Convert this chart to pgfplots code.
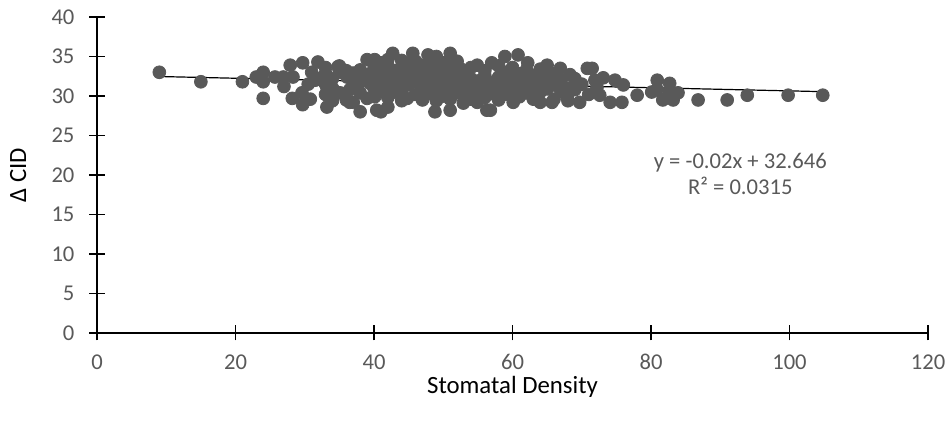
\documentclass[border=0pt]{standalone}
\usepackage{fontspec}
\setmainfont{Carlito}
\usepackage{pgfplots}
\pgfplotsset{compat=1.18}
\definecolor{tickgray}{HTML}{595959}
\definecolor{markgray}{HTML}{595959}
\begin{document}
\begin{tikzpicture}
\begin{axis}[
  name=ax,
  scale only axis,
  width=415.5pt, height=158pt,
  xmin=0, xmax=120, ymin=0, ymax=40,
  xtick={0,20,...,120}, ytick={0,5,...,40},
  axis lines=left,
  axis line style={-, line width=0.7pt, black},
  tick style={line width=0.7pt, black},
  tick align=center,
  major tick length=7.5pt,
  /pgf/number format/assume math mode=true,
  tick label style={text=tickgray, font=\fontsize{11.3}{13}\selectfont},
  xticklabel style={anchor=north, yshift=-3.4pt},
  yticklabel style={anchor=east, xshift=-4pt},
  xlabel={Stomatal Density},
  ylabel={Δ CID},
  label style={font=\fontsize{12.4}{14}\selectfont, text=black},
  xlabel style={at={(axis description cs:0.5,-0.171)}, anchor=center},
  ylabel style={at={(axis description cs:-0.095,0.5)}, anchor=center},
  clip=false,
]
\addplot[only marks, mark=*, mark size=3.2pt, mark options={fill=markgray, draw=markgray}] coordinates {
(9,33.0) (15,31.8) (21,31.8) (23,32.4) (24,33.0) (24,31.8) (24,29.7)
(25.7,32.4) (27.9,33.9) (29.7,34.2) (31.9,34.3) (31,33.0) (28.3,32.4) (26.9,32.4)
(28.2,29.7) (29.7,28.9) (29.6,30.4) (33.2,31.1) (33.2,28.6) (32.6,32.4) (34.8,33.7)
(36.1,32.4) (36.5,30.8) (36.5,29.2) (38,28.0) (39,34.6) (40.1,34.6) (38,33.3)
(39.4,31.6) (40.1,29.9) (40.4,28.2) (38,30.4) (35.1,30.4) (30.5,31.5) (27,31.2)
(31.5,32.0) (30.8,29.6)
(33,30.2) (33,31.5) (33,32.8) (33,33.6)
(34,29.4) (34,31.0) (34,32.2)
(35,33.0) (35,33.8)
(36,29.5) (36,33.2)
(37,29.2) (37,31.5) (37,32.9)
(38,31.8)
(39,29.7) (39,32.7)
(40,31.0) (40,32.3) (40,33.5)
(41,28.0) (41,30.6) (41,31.8) (41,33.0) (41,34.2)
(42,28.6) (42,29.8) (42,31.2) (42,32.5) (42,33.8) (42,34.6)
(42.7,35.4) (43,30.5) (43,31.9) (43,33.2)
(44,29.4) (44,30.9) (44,32.3) (44,33.7) (44,34.5)
(44.8,29.7) (45,31.4) (45,32.8) (45,34.1)
(45.6,35.4) (46,30.2) (46,31.8) (46,33.3) (46,34.4)
(47,29.5) (47,31.0) (47,32.4) (47,33.8) (47.8,35.2)
(48,30.3) (48,31.7) (48,33.1) (48,34.5) (48.8,28.0)
(49,29.4) (49,30.9) (49,32.3) (49,33.6) (49,35.0)
(50,30.0) (50,31.4) (50,32.8) (50,34.2)
(51,28.2) (51,29.6) (51,31.0) (51,32.4) (51,33.8) (51,35.4)
(52,30.4) (52,31.7) (52,33.1) (52.4,33.5) (52,34.4)
(52.9,29.1) (53,30.1) (53,31.5) (53,32.9)
(54,29.6) (54,30.8) (54,32.2) (54,33.6)
(54.9,29.2) (55,30.5) (55,31.9) (54.9,33.9)
(56.3,28.2) (56,29.8) (56,31.2) (56,32.6) (56,33.2)
(56.8,28.2) (57,30.3) (57,31.7) (57,34.2)
(58,29.5) (58,31.0) (58,32.4) (58,33.8)
(58.9,35.0) (59,30.2) (59,31.6) (59,33.0)
(60.1,29.2) (60,30.8) (60,32.2) (60,33.6) (60.8,35.2)
(61,29.9) (61,31.4) (61,32.8)
(62.2,34.2) (62,30.4) (62,31.9) (62,33.3)
(63,29.6) (63,31.1) (63,32.6)
(64,29.2) (64,30.5) (64,32.0) (64,33.4)
(65.7,29.2) (65,30.9) (65,32.5) (65,33.9)
(66,29.6) (66,31.4) (66,32.8)
(67.9,29.9) (67,30.6) (67,32.0) (66.9,33.5)
(68,29.4) (68,31.0) (68.3,32.7)
(69.7,29.2) (69,30.8) (69,32.2)
(70.8,33.5) (70,31.5) (71,30.2) (71.9,32.0)
(71.5,33.5) (73.1,32.3) (74.8,32.0) (76,31.4) (72.2,31.1) (72.6,30.1)
(74.1,29.2) (75.8,29.2) (78,30.1) (80.9,32.0) (82.7,31.6) (80.9,30.8)
(83.9,30.4) (81.7,29.5) (83.2,29.5) (86.8,29.5) (80.1,30.5) (82.7,30.5)
(91,29.5) (93.9,30.1) (99.8,30.1) (104.8,30.1)
};
\addplot[black, line width=0.6pt, no marks] coordinates {(9,32.466) (105,30.546)};
\node[align=center, text=tickgray, font=\fontsize{11.3}{13}\selectfont] at (axis cs:92.9,20.1) {y = -0.02x + 32.646\\R² = 0.0315};
\end{axis}
\pgfresetboundingbox
\path[use as bounding box] ([shift={(-48.5pt,-46pt)}]ax.south west) rectangle ([shift={(11pt,8.5pt)}]ax.north east);
\end{tikzpicture}
\end{document}
